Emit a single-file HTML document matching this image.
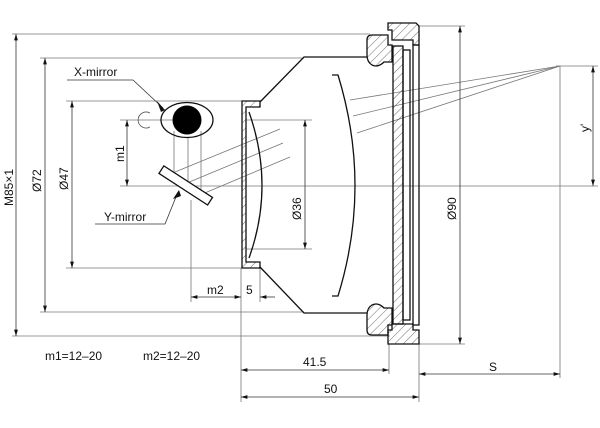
<!DOCTYPE html>
<html><head><style>body{margin:0;background:#fff}svg{display:block}text{font-family:"Liberation Sans",sans-serif;font-size:12px;fill:#111}</style></head><body>
<svg width="600" height="428" viewBox="0 0 600 428" xmlns="http://www.w3.org/2000/svg">
<defs>
<pattern id="h" width="6" height="6" patternUnits="userSpaceOnUse" patternTransform="rotate(45)"><line x1="0" y1="0" x2="0" y2="6" stroke="#333" stroke-width="0.7"/></pattern>
<marker id="a" viewBox="0 0 10 6" refX="10" refY="3" markerWidth="8" markerHeight="5" orient="auto-start-reverse"><path d="M0,0 L10,3 L0,6z" fill="#111"/></marker>
</defs>
<g stroke="#777" stroke-width="0.8" fill="none">
<line x1="120" y1="186" x2="598" y2="186"/>
<line x1="12" y1="34" x2="370" y2="34"/>
<line x1="12" y1="336" x2="390" y2="336"/>
<line x1="40" y1="58" x2="304" y2="58"/>
<line x1="40" y1="312" x2="304" y2="312"/>
<line x1="66" y1="101" x2="242" y2="101"/>
<line x1="66" y1="268" x2="242" y2="268"/>
<line x1="418" y1="26" x2="465" y2="26"/>
<line x1="418" y1="344" x2="465" y2="344"/>
<line x1="246" y1="120" x2="312" y2="120"/>
<line x1="246" y1="249" x2="312" y2="249"/>
<line x1="120" y1="120" x2="176" y2="120"/>
<line x1="556" y1="66" x2="598" y2="66"/>
<line x1="560" y1="66" x2="560" y2="378"/>
<line x1="191" y1="200" x2="191" y2="302"/>
<line x1="260" y1="268" x2="260" y2="302"/>
<line x1="241" y1="268" x2="241" y2="402"/>
<line x1="389" y1="344" x2="389" y2="374"/>
<line x1="419" y1="344" x2="419" y2="402"/>
<line x1="560" y1="66" x2="350" y2="100"/>
<line x1="560" y1="66" x2="353" y2="116"/>
<line x1="560" y1="66" x2="357" y2="133"/>
<line x1="175" y1="172" x2="280" y2="129"/>
<line x1="187" y1="183" x2="283" y2="143"/>
<line x1="200" y1="195" x2="290" y2="157"/>
<line x1="174" y1="131" x2="174" y2="183"/>
<line x1="188" y1="138" x2="188" y2="190"/>
<line x1="201" y1="131" x2="201" y2="198"/>
</g>
<g stroke="#333" stroke-width="0.8" fill="none">
<line x1="16" y1="34" x2="16" y2="336" marker-start="url(#a)" marker-end="url(#a)"/>
<line x1="45" y1="58" x2="45" y2="312" marker-start="url(#a)" marker-end="url(#a)"/>
<line x1="72" y1="101" x2="72" y2="268" marker-start="url(#a)" marker-end="url(#a)"/>
<line x1="127" y1="120" x2="127" y2="186" marker-start="url(#a)" marker-end="url(#a)"/>
<line x1="305" y1="120" x2="305" y2="249" marker-start="url(#a)" marker-end="url(#a)"/>
<line x1="460" y1="26" x2="460" y2="344" marker-start="url(#a)" marker-end="url(#a)"/>
<line x1="593" y1="66" x2="593" y2="186" marker-start="url(#a)" marker-end="url(#a)"/>
<line x1="191" y1="297" x2="241" y2="297" marker-start="url(#a)" marker-end="url(#a)"/>
<line x1="275" y1="297" x2="260" y2="297" marker-end="url(#a)"/>
<line x1="241" y1="370" x2="389" y2="370" marker-start="url(#a)" marker-end="url(#a)"/>
<line x1="241" y1="397" x2="419" y2="397" marker-start="url(#a)" marker-end="url(#a)"/>
<line x1="419" y1="374" x2="560" y2="374" marker-start="url(#a)" marker-end="url(#a)"/>
<polyline points="67,80 133,80 163,108"/>
<polyline points="95,224 165,224 178,192"/>
</g>
<path d="M157,101 L165,110 L161,112z" fill="#111"/>
<path d="M173,199 L179,190 L181,196z" fill="#111"/>
<g stroke="#111" stroke-width="1.3" fill="none">
<path d="M242,101 L260,101 L260,107 L246,107 L246,262 L260,262 L260,268 L242,268 Z" fill="url(#h)"/>
<path d="M260,102 L304,57 L367,57"/>
<path d="M260,267 L304,313 L367,313"/>
<path d="M249,112 Q275,186 249,258"/>
<path d="M332,75 L338,75 Q372,186 338,296 L332,296"/>
<path d="M367,40 Q367,35 372,35 L388,35 L388,45 L392,45 L392,62 L384,62 Q378,68 372,65 Q367,62 367,55 Z" fill="url(#h)"/>
<path d="M388,23 L416,23 L419,26 L419,45 L413,45 L413,40 L392,40 L392,30 L388,30 Z" fill="url(#h)"/>
<path d="M388,330 L392,330 L392,324 L413,324 L413,330 L419,330 L419,344 L388,344 Z" fill="url(#h)"/>
<path d="M367,330 Q367,335 372,335 L388,335 L388,325 L392,325 L392,308 L384,308 Q378,302 372,305 Q367,308 367,315 Z" fill="url(#h)"/>
<rect x="393" y="46" width="10" height="278" fill="url(#h)"/>
<rect x="403" y="50" width="7" height="270"/>
<rect x="413" y="45" width="6" height="280"/>
</g>
<ellipse cx="187" cy="120" rx="26" ry="17.5" fill="none" stroke="#111" stroke-width="1.3"/>
<circle cx="187" cy="120" r="14.5" fill="#000"/>
<path d="M150,113 A8,8 0 1 0 150,127" fill="none" stroke="#555" stroke-width="0.8"/>
<rect x="157" y="181" width="58" height="9" transform="rotate(33 186 185)" fill="#fff" stroke="#111" stroke-width="1.3"/>
<text x="74" y="76">X-mirror</text>
<text x="104" y="221">Y-mirror</text>
<text transform="translate(124,162) rotate(-90)">m1</text>
<text transform="translate(13,206) rotate(-90)">M85×1</text>
<text transform="translate(41,192) rotate(-90)">Ø72</text>
<text transform="translate(68,190) rotate(-90)">Ø47</text>
<text transform="translate(301,220) rotate(-90)">Ø36</text>
<text transform="translate(456,220) rotate(-90)">Ø90</text>
<text transform="translate(589,132) rotate(-90)">y'</text>
<text x="207" y="294">m2</text>
<text x="246" y="294">5</text>
<text x="45" y="360">m1=12–20</text>
<text x="143" y="360">m2=12–20</text>
<text x="303" y="366">41.5</text>
<text x="324" y="393">50</text>
<text x="489" y="371">S</text>
</svg>
</body></html>
